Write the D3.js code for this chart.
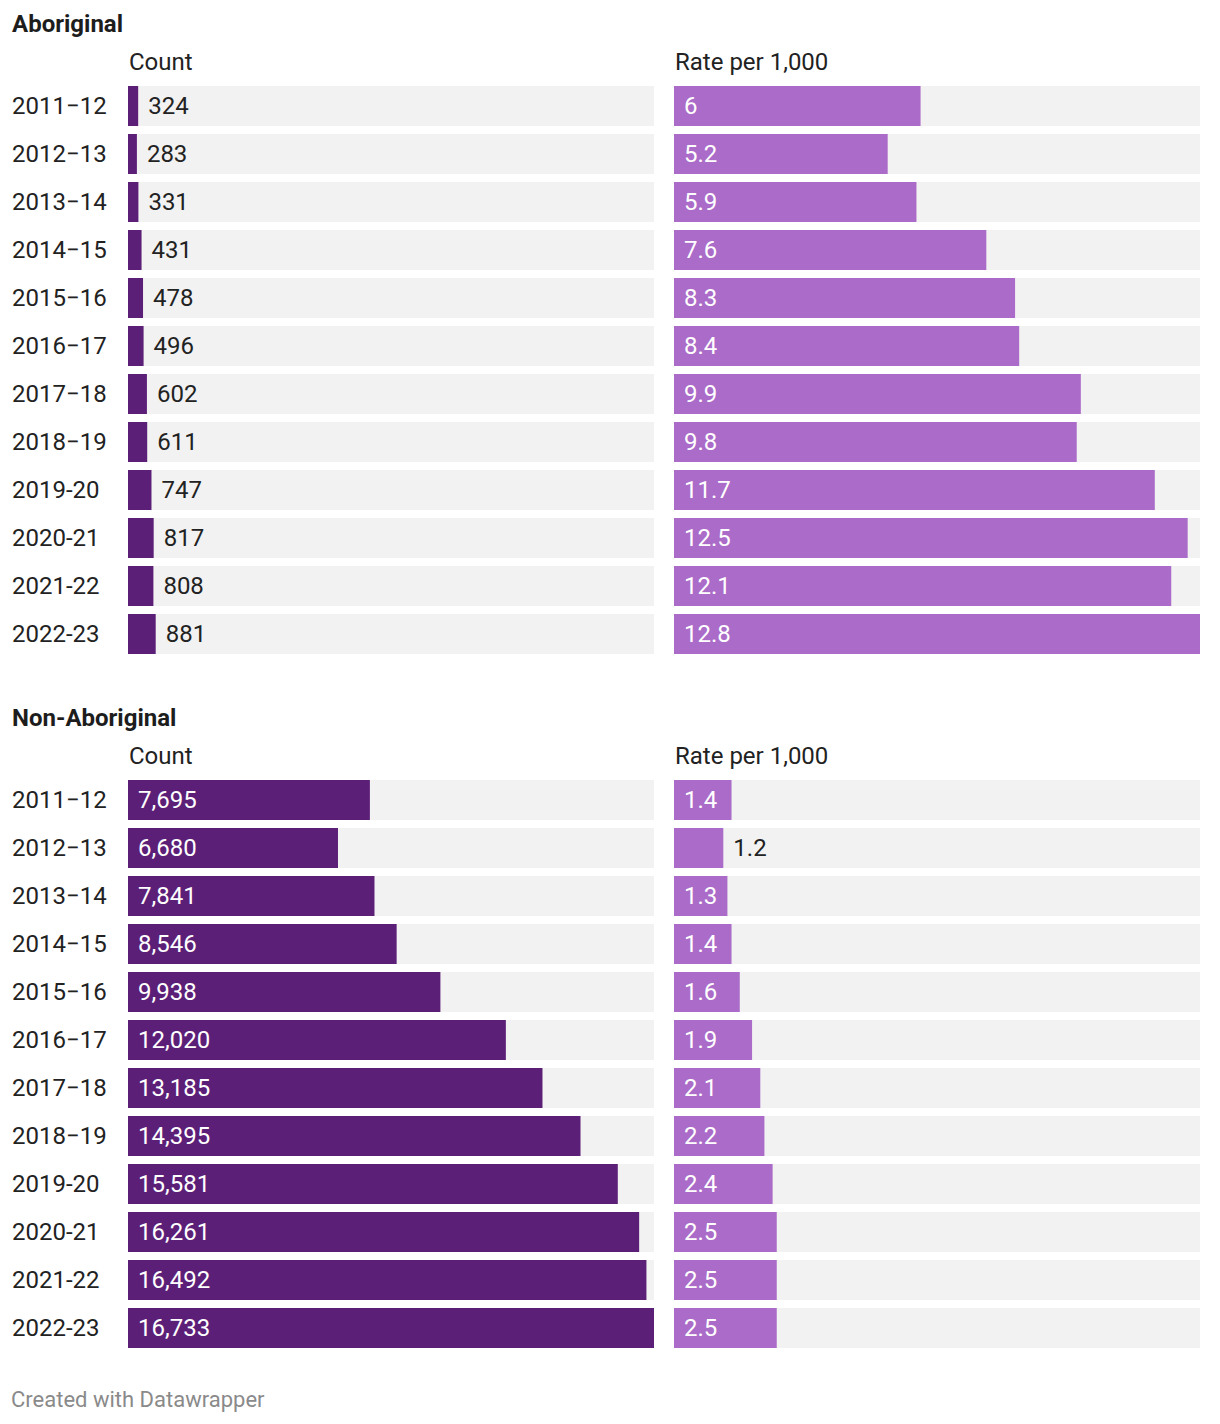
<!DOCTYPE html>
<html><head><meta charset="utf-8">
<script src="https://cdn.jsdelivr.net/npm/d3@7"></script>
<style>body{margin:0;background:#fff;font-family:Roboto,sans-serif;}</style>
</head><body><svg id="c" width="1220" height="1424"></svg>
<script>
const years = ["2011\u221212","2012\u221213","2013\u221214","2014\u221215","2015\u221216","2016\u221217","2017\u221218","2018\u221219","2019-20","2020-21","2021-22","2022-23"];
const aborigCount = [324,283,331,431,478,496,602,611,747,817,808,881];
const aborigRate = [6,5.2,5.9,7.6,8.3,8.4,9.9,9.8,11.7,12.5,12.1,12.8];
const nonAborigCount = [7695,6680,7841,8546,9938,12020,13185,14395,15581,16261,16492,16733];
const nonAborigRate = [1.4,1.2,1.3,1.4,1.6,1.9,2.1,2.2,2.4,2.5,2.5,2.5];
const groups = ["Aboriginal","Non-Aboriginal"];
const colTitles = ["Count","Rate per 1,000"];

const svg = d3.select("#c");
const countX = d3.scaleLinear().domain([0, d3.max(nonAborigCount.concat(aborigCount))]).range([128, 654]);
const rateX = d3.scaleLinear().domain([0, d3.max(aborigRate.concat(nonAborigRate))]).range([674, 1200]);
const fmtCount = d3.format(",");
const fmtRate = v => String(v);
const FS = 24;

const sections = [
  {title: groups[0], top: 0, count: aborigCount, rate: aborigRate},
  {title: groups[1], top: 694, count: nonAborigCount, rate: nonAborigRate}
];

sections.forEach(s => {
  const g = svg.append("g").attr("transform", `translate(0,${s.top})`);
  g.append("text").attr("x", 12).attr("y", 31.5).attr("font-size", FS).attr("font-weight", 700).attr("fill", "#1d1d1d").text(s.title);
  const y = d3.scaleBand().domain(years).range([82, 82 + 48 * years.length]).paddingInner(1/6).paddingOuter(1/12);
  g.selectAll("text.yr").data(years).join("text").attr("class","yr")
    .attr("x", 12).attr("y", d => y(d) + 27.5).attr("font-size", FS).attr("fill", "#222").text(d => d);
  const panels = [
    {x: countX, vals: s.count, fmt: fmtCount, color: "#5c1f78", title: colTitles[0]},
    {x: rateX, vals: s.rate, fmt: fmtRate, color: "#ab6bc8", title: colTitles[1]}
  ];
  panels.forEach(p => {
    const [r0, r1] = p.x.range();
    g.append("text").attr("x", r0 + 1).attr("y", 70).attr("font-size", FS).attr("fill", "#222").text(p.title);
    g.selectAll(null).data(p.vals).join("rect")
      .attr("x", r0).attr("y", (d,i) => y(years[i])).attr("width", r1 - r0).attr("height", y.bandwidth()).attr("fill", "#f2f2f2");
    g.selectAll(null).data(p.vals).join("rect")
      .attr("x", r0).attr("y", (d,i) => y(years[i])).attr("width", d => p.x(d) - r0).attr("height", y.bandwidth()).attr("fill", p.color);
    g.selectAll(null).data(p.vals).join("text")
      .attr("y", (d,i) => y(years[i]) + 27.5).attr("font-size", FS).text(d => p.fmt(d))
      .each(function(d){
        const t = d3.select(this);
        const w = this.getComputedTextLength();
        const bw = p.x(d) - r0;
        if (w + 20 <= bw) { t.attr("x", r0 + 10).attr("fill", "#fff"); }
        else { t.attr("x", p.x(d) + 10).attr("fill", "#222"); }
      });
  });
});

svg.append("text").attr("x", 11).attr("y", 1407).attr("font-size", 22).attr("fill", "#8a8a8a").text("Created with Datawrapper");
</script></body></html>
